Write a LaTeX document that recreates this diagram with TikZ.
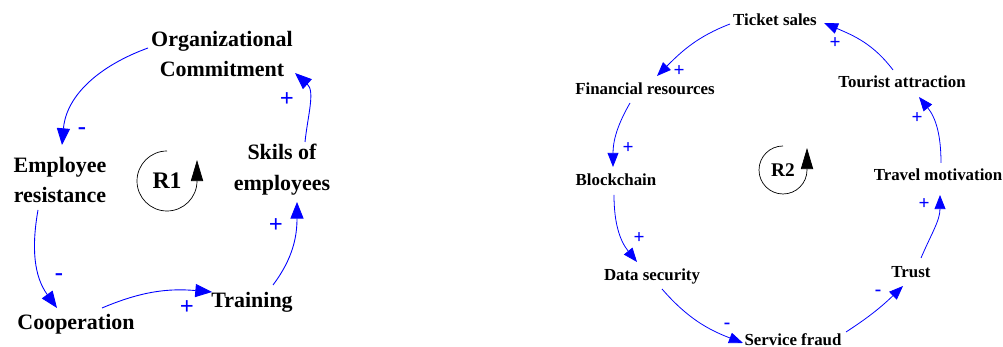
\documentclass[tikz,border=0pt]{standalone}
\usepackage{fontspec}
\setmainfont{Liberation Serif}
\usetikzlibrary{arrows.meta}

\tikzset{
  bigvar/.style={font=\bfseries\fontsize{12.5}{17.5}\selectfont, align=center, inner sep=0pt},
  smallvar/.style={font=\bfseries\fontsize{9.6}{11.5}\selectfont, inner sep=0pt},
  bigsign/.style={blue, font=\bfseries\fontsize{14}{14}\selectfont, inner sep=0pt},
  smallsign/.style={blue, font=\bfseries\fontsize{11}{11}\selectfont, inner sep=0pt},
  biglink/.style={blue, line width=0.5pt, -{Triangle[length=9.5pt,width=7.5pt]}},
  smalllink/.style={blue, line width=0.45pt, -{Triangle[length=8pt,width=6.2pt]}},
  loopmark/.style={black, line width=0.4pt, -{Triangle[length=12pt,width=7pt]}},
}

\begin{document}
\begin{tikzpicture}[x=0.02cm,y=0.02cm]
  \useasboundingbox (0,0) rectangle (1003,347);

  % loop R1
  \node[bigvar] (org) at (222,293) {Organizational\\Commitment};
  \node[bigvar] (emp) at (60,167) {Employee\\resistance};
  \node[bigvar] (skil) at (282,177) {Skils of\\employees};
  \node[bigvar] (coop) at (76,23) {Cooperation};
  \node[bigvar] (train) at (252,45) {Training};
  \node[font=\bfseries\fontsize{13.5}{13.5}\selectfont, inner sep=0pt] (loopA) at (167,166) {R1};

  \draw[biglink] ([shift={(-74,6)}]org.center) to[out=200,in=85] ([shift={(2,35)}]emp.center);
  \draw[biglink] ([shift={(-22,-30)}]emp.center) to[out=260,in=126] ([shift={(-19,16)}]coop.center);
  \draw[biglink] ([shift={(26,16)}]coop.center) to[out=23,in=175] ([shift={(-40,10)}]train.center);
  \draw[biglink] ([shift={(21,17)}]train.center) to[out=53,in=270] ([shift={(15,-32)}]skil.center);
  \draw[biglink] ([shift={(23,28)}]skil.center) to[out=84,in=318] ([shift={(73,-19)}]org.center);

  \node[bigsign] (sA1) at (82,216) {-};
  \node[bigsign] (sA2) at (59,70) {-};
  \node[bigsign] (sA3) at (187,39) {+};
  \node[bigsign] (sA4) at (276,121) {+};
  \node[bigsign] (sA5) at (287,247) {+};

  \draw[loopmark] ([shift={(0,30)}]loopA.center) arc[start angle=90, end angle=360, radius=30] -- ++(0,21);

  % loop R2
  \node[smallvar] (tick) at (775,327) {Ticket sales};
  \node[smallvar] (fin) at (645,258) {Financial resources};
  \node[smallvar] (tour) at (902,265) {Tourist attraction};
  \node[smallvar] (blk) at (616,167) {Blockchain};
  \node[smallvar] (trav) at (938,172) {Travel motivation};
  \node[smallvar] (dsec) at (652,71) {Data security};
  \node[smallvar] (trust) at (911,75) {Trust};
  \node[smallvar] (fraud) at (793,7) {Service fraud};
  \node[font=\bfseries\fontsize{11}{11}\selectfont, inner sep=0pt] (loopB) at (783,177) {R2};

  \draw[smalllink] ([shift={(-45,-4)}]tick.center) to[out=201,in=45] ([shift={(12,13)}]fin.center);
  \draw[smalllink] ([shift={(-15,-14)}]fin.center) to[out=240,in=90] ([shift={(-3,13)}]blk.center);
  \draw[smalllink] ([shift={(-2,-15)}]blk.center) to[out=270,in=129] ([shift={(-15,14)}]dsec.center);
  \draw[smalllink] ([shift={(10,-13)}]dsec.center) to[out=311,in=159] ([shift={(-50,-3)}]fraud.center);
  \draw[smalllink] ([shift={(53,8)}]fraud.center) to[out=33,in=224] ([shift={(-8,-14)}]trust.center);
  \draw[smalllink] ([shift={(10,14)}]trust.center) to[out=67,in=270] ([shift={(2,-20)}]trav.center);
  \draw[smalllink] ([shift={(3,12)}]trav.center) to[out=90,in=309] ([shift={(17,-15)}]tour.center);
  \draw[smalllink] ([shift={(-9,12)}]tour.center) to[out=127,in=337] ([shift={(49,-3)}]tick.center);

  \node[smallsign] (sB1) at (679,276) {+};
  \node[smallsign] (sB2) at (628,199) {+};
  \node[smallsign] (sB3) at (639,109) {+};
  \node[smallsign] (sB4) at (727,21) {-};
  \node[smallsign] (sB5) at (878,54) {-};
  \node[smallsign] (sB6) at (924,143) {+};
  \node[smallsign] (sB7) at (917,229) {+};
  \node[smallsign] (sB8) at (835,304) {+};

  \draw[loopmark] ([shift={(0,24)}]loopB.center) arc[start angle=90, end angle=360, radius=24] -- ++(0,22);
\end{tikzpicture}
\end{document}
